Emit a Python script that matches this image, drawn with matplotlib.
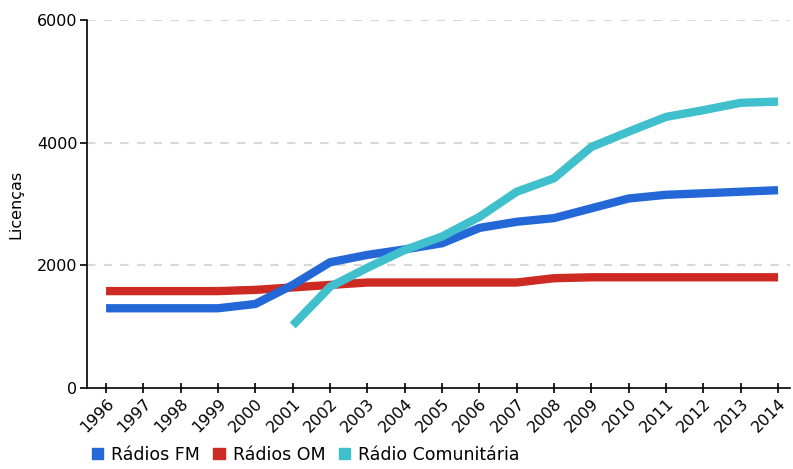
import matplotlib
matplotlib.use("Agg")
import matplotlib.pyplot as plt
from matplotlib.patches import Patch

years = list(range(1996, 2015))
fm = [1300, 1300, 1300, 1300, 1370, 1680, 2050, 2170, 2260, 2360, 2610, 2710, 2770, 2930, 3090, 3150, 3175, 3200, 3225]
om = [1580, 1580, 1580, 1580, 1600, 1640, 1680, 1720, 1720, 1720, 1720, 1720, 1790, 1805, 1805, 1805, 1805, 1805, 1805]
com_years = list(range(2001, 2015))
com = [1020, 1650, 1960, 2250, 2470, 2790, 3200, 3420, 3930, 4180, 4420, 4530, 4650, 4670]

c_fm = "#2468d8"
c_om = "#cc2a22"
c_com = "#40c0cc"

fig = plt.figure(figsize=(7.93, 4.69), dpi=100)
ax = fig.add_axes([87/793, 1-388/469, 703/793, 368/469])

for y in [2000, 4000, 6000]:
    ax.axhline(y, color="#d8d8d8", lw=1.5, ls=(0, (4, 4)), zorder=0)

ax.plot(years, om, color=c_om, lw=6, solid_capstyle="butt", zorder=2)
ax.plot(years, fm, color=c_fm, lw=6, solid_capstyle="butt", zorder=3)
ax.plot(com_years, com, color=c_com, lw=6, solid_capstyle="butt", zorder=4)

ax.set_xlim(1995.49, 2014.32)
ax.set_ylim(0, 6000)
ax.set_yticks([0, 2000, 4000, 6000])
ax.set_xticks(years)
ax.set_xticklabels([str(y) for y in years], rotation=45, ha="right", rotation_mode="anchor")
for s in ["top", "right"]:
    ax.spines[s].set_visible(False)
ax.spines["left"].set_linewidth(1.2)
ax.spines["bottom"].set_linewidth(1.2)
ax.tick_params(axis="x", direction="inout", length=7, width=1.2, labelsize=11.5, pad=2)
ax.tick_params(axis="y", direction="out", length=5, width=1.2, labelsize=11.5, pad=2)
ax.set_ylabel("Licenças", fontsize=11.5, labelpad=10)

handles = [Patch(color=c_fm, label="Rádios FM"), Patch(color=c_om, label="Rádios OM"),
           Patch(color=c_com, label="Rádio Comunitária")]
fig.legend(handles=handles, loc="lower left", bbox_to_anchor=(76/793, -0.022), ncol=3, frameon=False,
           fontsize=12.5, handlelength=0.65, handleheight=0.65, handletextpad=0.45, columnspacing=0.8)

fig.savefig("out.png", dpi=100)
